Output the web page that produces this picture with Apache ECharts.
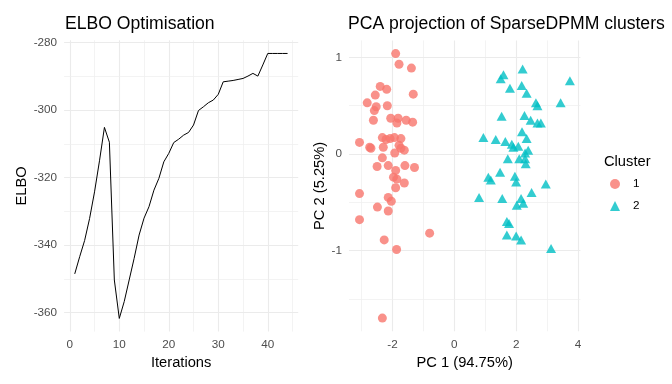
<!DOCTYPE html>
<html>
<head>
<meta charset="utf-8">
<script src="https://cdn.jsdelivr.net/npm/echarts@6/dist/echarts.min.js"></script>
<style>
html,body{margin:0;padding:0;background:#fff;}
#chart{width:672px;height:384px;}
</style>
</head>
<body>
<div id="chart"></div>
<script>
// ---- Data ----
const iterations = [1,2,3,4,5,6,7,8,9,10,11,12,13,14,15,16,17,18,19,20,21,22,23,24,25,26,27,28,29,30,31,32,33,34,35,36,37,38,39,40,41,42,43,44];
const elbo = [-348.5,-343.4,-338.6,-332.1,-324.2,-315.0,-305.1,-309.5,-350.3,-361.7,
              -356.7,-350.3,-343.9,-337.0,-332.0,-328.6,-323.7,-320.2,-315.3,-312.8,
              -309.6,-308.6,-307.4,-306.6,-304.4,-300.1,-299.0,-297.8,-297.0,-295.3,
              -291.6,-291.4,-291.2,-290.9,-290.6,-289.9,-289.1,-289.9,-286.6,-283.2,
              -283.2,-283.2,-283.2,-283.2];

const cluster1PC1 = [-1.90,-1.79,-1.39,-2.40,-2.19,-2.56,-1.33,-2.82,-2.53,-2.17,
                     -2.59,-2.62,-2.06,-1.82,-1.86,-1.56,-1.35,-3.07,-2.74,-2.70,
                     -2.33,-2.21,-2.08,-1.94,-1.73,-2.30,-1.79,-1.73,-1.62,-1.93,
                     -2.33,-2.50,-2.14,-1.60,-1.29,-1.90,-1.97,-1.86,-1.62,-1.90,
                     -3.07,-2.14,-2.04,-2.49,-2.14,-3.07,-0.80,-2.27,-1.87,-2.33];
const cluster1PC2 = [1.04,0.93,0.89,0.70,0.67,0.61,0.62,0.53,0.49,0.50,
                     0.45,0.35,0.37,0.37,0.32,0.35,0.33,0.12,0.07,0.06,
                     0.17,0.15,0.16,0.17,0.16,0.07,0.09,0.06,0.04,0.01,
                     -0.04,-0.13,-0.12,-0.12,-0.14,-0.17,-0.24,-0.26,-0.30,-0.35,
                     -0.41,-0.45,-0.49,-0.55,-0.59,-0.68,-0.82,-0.89,-0.99,-1.70];

const cluster2PC1 = [2.21,1.59,1.50,3.74,1.80,2.18,2.34,2.64,2.69,3.44,
                     1.53,2.27,2.47,2.69,2.80,2.19,0.94,1.34,1.65,1.86,
                     1.91,2.07,2.34,2.39,2.29,1.73,2.10,2.29,2.31,1.48,
                     1.10,1.18,1.96,2.00,2.96,0.80,1.55,2.16,2.50,2.02,
                     2.23,1.70,1.77,1.70,2.00,2.16,3.13];
const cluster2PC2 = [0.88,0.82,0.78,0.76,0.68,0.71,0.63,0.53,0.50,0.53,
                     0.39,0.40,0.35,0.32,0.32,0.23,0.17,0.15,0.13,0.10,
                     0.07,0.08,0.16,0.04,0.01,-0.05,-0.05,-0.05,-0.10,-0.19,
                     -0.24,-0.27,-0.23,-0.29,-0.31,-0.45,-0.46,-0.46,-0.40,-0.53,
                     -0.51,-0.70,-0.72,-0.84,-0.85,-0.89,-0.98];

const elboXTicks = [0,10,20,30,40];
const elboXMinor = [5,15,25,35,45];
const elboYTicks = [-360,-340,-320,-300,-280];
const elboYMinor = [-350,-330,-310,-290];
const pcaXTicks = [-2,0,2,4];
const pcaXMinor = [-3,-1,1,3];
const pcaYTicks = [-1,0,1];
const pcaYMinor = [-1.5,-0.5,0.5];

// ---- Chart ----
const FONT = 'Liberation Sans, Arial, sans-serif';
const chart = echarts.init(document.getElementById('chart'), null, {renderer:'canvas'});

function gridLines(major, minor, axisKey){
  const out = [];
  major.forEach(v => out.push({[axisKey]: v, lineStyle:{color:'#ebebeb', width:1.1, type:'solid'}}));
  minor.forEach(v => out.push({[axisKey]: v, lineStyle:{color:'#eeeeee', width:0.7, type:'solid'}}));
  return out;
}

function axisBase(){
  return {
    type:'value',
    axisLine:{show:false},
    axisTick:{show:false},
    splitLine:{show:false},
    nameTextStyle:{fontFamily:FONT, fontSize:14.7, color:'#000'},
    axisLabel:{fontFamily:FONT, fontSize:11.7, color:'#4d4d4d', margin:7}
  };
}

const ex = Object.assign(axisBase(), {gridIndex:0, min:-1.15, max:46.15, name:'Iterations', nameLocation:'middle', nameGap:22});
ex.axisLabel = Object.assign({}, ex.axisLabel, {customValues: elboXTicks});
const ey = Object.assign(axisBase(), {gridIndex:0, min:-365.6, max:-279.3, name:'ELBO', nameLocation:'middle', nameGap:35});
ey.axisLabel = Object.assign({}, ey.axisLabel, {customValues: elboYTicks});
const px = Object.assign(axisBase(), {gridIndex:1, min:-3.41, max:4.08, name:'PC 1 (94.75%)', nameLocation:'middle', nameGap:22});
px.axisLabel = Object.assign({}, px.axisLabel, {customValues: pcaXTicks});
const py = Object.assign(axisBase(), {gridIndex:1, min:-1.837, max:1.177, name:'PC 2 (5.25%)', nameLocation:'middle', nameGap:21});
py.axisLabel = Object.assign({}, py.axisLabel, {customValues: pcaYTicks});

const markLineBase = {silent:true, symbol:'none', label:{show:false}, animation:false, z:1,
                      lineStyle:{type:'solid', color:'#ebebeb', width:1}, emphasis:{disabled:true}};

const option = {
  animation:false,
  backgroundColor:'#ffffff',
  textStyle:{fontFamily:FONT},
  title:[
    {text:'ELBO Optimisation', left:65, top:15, padding:0, textStyle:{fontFamily:FONT, fontSize:17.6, fontWeight:'normal', color:'#000'}},
    {text:'PCA projection of SparseDPMM clusters', left:348, top:15, padding:0, textStyle:{fontFamily:FONT, fontSize:17.6, fontWeight:'normal', color:'#000'}},
    {text:'Cluster', left:604, top:154, padding:0, textStyle:{fontFamily:FONT, fontSize:14.7, fontWeight:'normal', color:'#000'}}
  ],
  legend:{
    orient:'vertical', left:610, top:178, padding:0,
    itemWidth:10, itemHeight:10, itemGap:10,
    textStyle:{fontFamily:FONT, fontSize:11.7, color:'#000', padding:[0,0,0,8]},
    data:[{name:'1', icon:'circle'},{name:'2', icon:'triangle'}]
  },
  grid:[
    {left:64.1, top:40.3, width:234.1, height:291.3, containLabel:false},
    {left:349, top:40.4, width:231.4, height:290.9, containLabel:false}
  ],
  xAxis:[ex, px],
  yAxis:[ey, py],
  series:[
    {type:'line', xAxisIndex:0, yAxisIndex:0, data:[], z:0, silent:true,
     markLine:Object.assign({}, markLineBase, {
       data: gridLines(elboXTicks, elboXMinor, 'xAxis').concat(gridLines(elboYTicks, elboYMinor, 'yAxis'))})},
    {type:'line', xAxisIndex:1, yAxisIndex:1, data:[], z:0, silent:true,
     markLine:Object.assign({}, markLineBase, {
       data: gridLines(pcaXTicks, pcaXMinor, 'xAxis').concat(gridLines(pcaYTicks, pcaYMinor, 'yAxis'))})},
    {type:'line', name:'ELBO', xAxisIndex:0, yAxisIndex:0, showSymbol:false, symbol:'none', z:3,
     lineStyle:{color:'#000', width:1},
     data: iterations.map((it,i)=>[it, elbo[i]])},
    {type:'scatter', name:'1', xAxisIndex:1, yAxisIndex:1, symbol:'circle', symbolSize:9, z:3,
     itemStyle:{color:'#F8766D', opacity:0.8},
     data: cluster1PC1.map((v,i)=>[v, cluster1PC2[i]])},
    {type:'scatter', name:'2', xAxisIndex:1, yAxisIndex:1, symbol:'triangle', symbolSize:[10,9], z:3,
     itemStyle:{color:'#00BFC4', opacity:0.8},
     data: cluster2PC1.map((v,i)=>[v, cluster2PC2[i]])}
  ]
};
chart.setOption(option);
</script>
</body>
</html>
